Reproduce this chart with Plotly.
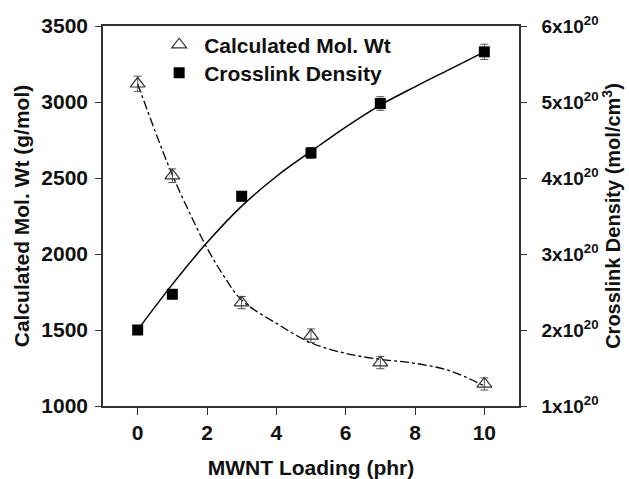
import plotly.graph_objects as go

# ---- data ----
loading = [0, 1, 3, 5, 7, 10]
mol_wt = [3120, 2515, 1680, 1462, 1285, 1145]
mol_wt_err = [50, 45, 40, 45, 40, 40]
crosslink = [2.0e20, 2.47e20, 3.76e20, 4.33e20, 4.98e20, 5.66e20]
crosslink_err = [0.05e20, 0.05e20, 0.06e20, 0.07e20, 0.09e20, 0.10e20]

# fitted curves
mol_fit_x = [0, 0.5, 1, 1.5, 2, 2.5, 3, 4, 5, 6, 7, 8, 9, 10]
mol_fit_y = [3120, 2810, 2520, 2270, 2040, 1850, 1697, 1544, 1416, 1346, 1307, 1281, 1232, 1132]
cl_fit_x = [0, 1, 2, 3, 4, 5, 6, 7, 8, 9, 10]
cl_fit_y = [2.0e20, 2.6e20, 3.15e20, 3.63e20, 4.02e20, 4.35e20, 4.67e20, 4.96e20, 5.2e20, 5.43e20, 5.66e20]

x_ticks = [0, 2, 4, 6, 8, 10]
y_ticks = [1000, 1500, 2000, 2500, 3000, 3500]
y2_ticks = [1e20, 2e20, 3e20, 4e20, 5e20, 6e20]
y2_ticktext = ["1x10<sup>20</sup>", "2x10<sup>20</sup>", "3x10<sup>20</sup>",
               "4x10<sup>20</sup>", "5x10<sup>20</sup>", "6x10<sup>20</sup>"]

FONT = "Liberation Sans"
AX = "#333333"
FS = 21


def bfont(size=FS):
    return dict(family=FONT, size=size, color="#111111", weight="bold")


fig = go.Figure()

fig.add_trace(go.Scatter(
    x=mol_fit_x, y=mol_fit_y, mode="lines", line=dict(color="black", width=1.3, dash="dashdot", shape="spline"),
    showlegend=False, hoverinfo="skip", yaxis="y"))
fig.add_trace(go.Scatter(
    x=cl_fit_x, y=cl_fit_y, mode="lines", line=dict(color="black", width=1.5, shape="spline"),
    showlegend=False, hoverinfo="skip", yaxis="y2"))

fig.add_trace(go.Scatter(
    x=loading, y=mol_wt, mode="markers", name="Calculated Mol. Wt",
    marker=dict(symbol="triangle-up-open", size=13, color="#333333", line=dict(width=1.2)),
    error_y=dict(type="data", array=mol_wt_err, color="#555555", thickness=1, width=4),
    yaxis="y", legend="legend"))
fig.add_trace(go.Scatter(
    x=loading, y=crosslink, mode="markers", name="Crosslink Density",
    marker=dict(symbol="square", size=11, color="black"),
    error_y=dict(type="data", array=crosslink_err, color="#555555", thickness=1, width=4),
    yaxis="y2", legend="legend2"))

legend_common = dict(font=bfont(FS), bgcolor="rgba(0,0,0,0)",
                     xanchor="left", yanchor="middle", itemwidth=40)

fig.update_layout(
    width=629, height=479,
    margin=dict(l=103, r=110, t=26, b=73),
    paper_bgcolor="white", plot_bgcolor="white",
    font=dict(family=FONT, color="black"),
    xaxis=dict(range=[-1, 11], tickvals=x_ticks, ticks="outside", ticklen=7, tickcolor=AX,
               showline=True, linecolor=AX, linewidth=1.5, mirror=True, showgrid=False, zeroline=False,
               tickfont=bfont(), automargin=False,
               title=dict(text="MWNT Loading (phr)", font=bfont(), standoff=20)),
    yaxis=dict(range=[1000, 3500], tickvals=y_ticks, ticks="outside", ticklen=6, tickcolor=AX,
               showline=True, linecolor=AX, linewidth=1.5, showgrid=False, zeroline=False,
               tickfont=bfont(), automargin=False, ticklabelstandoff=3,
               title=dict(text="Calculated Mol. Wt (g/mol)", font=bfont(), standoff=6)),
    yaxis2=dict(range=[1e20, 6e20], tickvals=y2_ticks, ticktext=y2_ticktext,
                overlaying="y", side="right", ticks="outside", ticklen=6, tickcolor=AX,
                showline=True, linecolor=AX, linewidth=1.5, showgrid=False, zeroline=False,
                tickfont=bfont(19), automargin=False, ticklabelstandoff=11,
                title=dict(text="Crosslink Density (mol/cm<sup>3</sup>)", font=bfont(20), standoff=4)),
    legend=dict(x=0.123, y=(406 - 45) / 380, **legend_common),
    legend2=dict(x=0.123, y=(406 - 73) / 380, **legend_common),
)

fig.write_html("out.html")
